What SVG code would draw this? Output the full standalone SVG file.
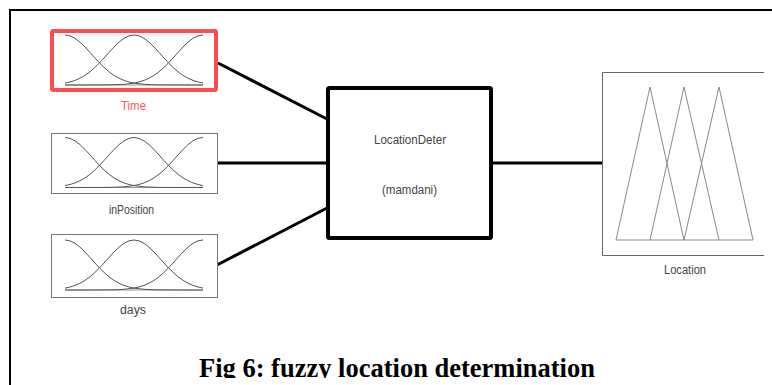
<svg xmlns="http://www.w3.org/2000/svg" width="772" height="385" viewBox="0 0 772 385">
<style>
.frame{fill:none;stroke:#000;stroke-width:2}
.mfbox{fill:#fff;stroke:#777;stroke-width:1}
.mf{fill:none;stroke:#555;stroke-width:1}
.base{fill:none;stroke:#999;stroke-width:1}
.lbl{font-family:"Liberation Sans",Arial,sans-serif;font-size:12.5px;fill:#444;text-anchor:middle}
.conn{stroke:#000;stroke-width:3;fill:none}
.tri{fill:none;stroke:#888;stroke-width:1}
</style>
<defs>
<clipPath id="capclip"><rect x="0" y="340" width="772" height="38"/></clipPath>
<g id="gauss3">
<polyline class="base" points="0,50 138,50"/>
<polyline class="mf" points="0,0 5,0.85 10,3.3 15,7.15 20,12 25,17.45 30,23.05 35,28.4 40,33.3 45,37.55 50,41 55,43.7 60,45.75 65,47.25 70,48.25 80,49.4 90,49.8 100,49.95 138,50"/>
<polyline class="mf" points="0,48.1 4,47.25 9,45.75 14,43.7 19,41 24,37.55 29,33.3 34,28.4 39,23.05 44,17.45 49,12 54,7.15 59,3.3 64,0.85 69,0 74,0.85 79,3.3 84,7.15 89,12 94,17.45 99,23.05 104,28.4 109,33.3 114,37.55 119,41 124,43.7 129,45.75 134,47.25 138,48.1"/>
<polyline class="mf" points="138,0 133,0.85 128,3.3 123,7.15 118,12 113,17.45 108,23.05 103,28.4 98,33.3 93,37.55 88,41 83,43.7 78,45.75 73,47.25 68,48.25 58,49.4 48,49.8 38,49.95 0,50"/>
</g>
</defs>
<rect x="0" y="0" width="772" height="385" fill="#fff"/>
<rect class="frame" x="10" y="10" width="800" height="420"/>

<g id="connectors">
<line class="conn" x1="218" y1="63" x2="327" y2="119"/>
<line class="conn" x1="217" y1="163" x2="327" y2="163"/>
<line class="conn" x1="217" y1="265" x2="327" y2="208"/>
<line class="conn" x1="492" y1="163" x2="602" y2="163"/>
</g>

<g id="node-time">
<rect x="52" y="31" width="164" height="59" rx="1.5" fill="#fff" stroke="#ff4d4d" stroke-width="4"/>
<use href="#gauss3" transform="translate(65,35)"/>
<text class="lbl" x="133.5" y="110" textLength="25" lengthAdjust="spacingAndGlyphs" style="fill:#ff5a5a">Time</text>
</g>

<g id="node-inposition">
<rect class="mfbox" x="51.5" y="133.5" width="166" height="60"/>
<use href="#gauss3" transform="translate(65,137.5)"/>
<text class="lbl" x="131.5" y="214" textLength="45" lengthAdjust="spacingAndGlyphs">inPosition</text>
</g>

<g id="node-days">
<rect class="mfbox" x="51.5" y="234.5" width="166" height="63"/>
<use href="#gauss3" transform="translate(65,240)"/>
<text class="lbl" x="133" y="314" textLength="26" lengthAdjust="spacingAndGlyphs">days</text>
</g>

<g id="node-locationdeter">
<rect x="328" y="88" width="163" height="150" rx="1.5" fill="#fff" stroke="#000" stroke-width="4"/>
<text class="lbl" x="410" y="144" textLength="72" lengthAdjust="spacingAndGlyphs">LocationDeter</text>
<text class="lbl" x="409.5" y="194" textLength="55" lengthAdjust="spacingAndGlyphs">(mamdani)</text>
</g>

<g id="node-location">
<path d="M764,72.5 H602.5 V255.5 H764" fill="#fff" stroke="#666" stroke-width="1"/>
<polyline class="tri" points="616,240 650,87 684,240"/>
<polyline class="tri" points="650,240 684,87 719,240"/>
<polyline class="tri" points="684,240 719,87 753,240"/>
<line class="tri" x1="616" y1="240" x2="753" y2="240"/>
<text class="lbl" x="685" y="274" textLength="42" lengthAdjust="spacingAndGlyphs">Location</text>
</g>

<text x="199" y="377" clip-path="url(#capclip)" font-family="'Liberation Serif','Times New Roman',serif" font-weight="bold" font-size="26.5" fill="#000">Fig 6: fuzzy location determination</text>
</svg>
